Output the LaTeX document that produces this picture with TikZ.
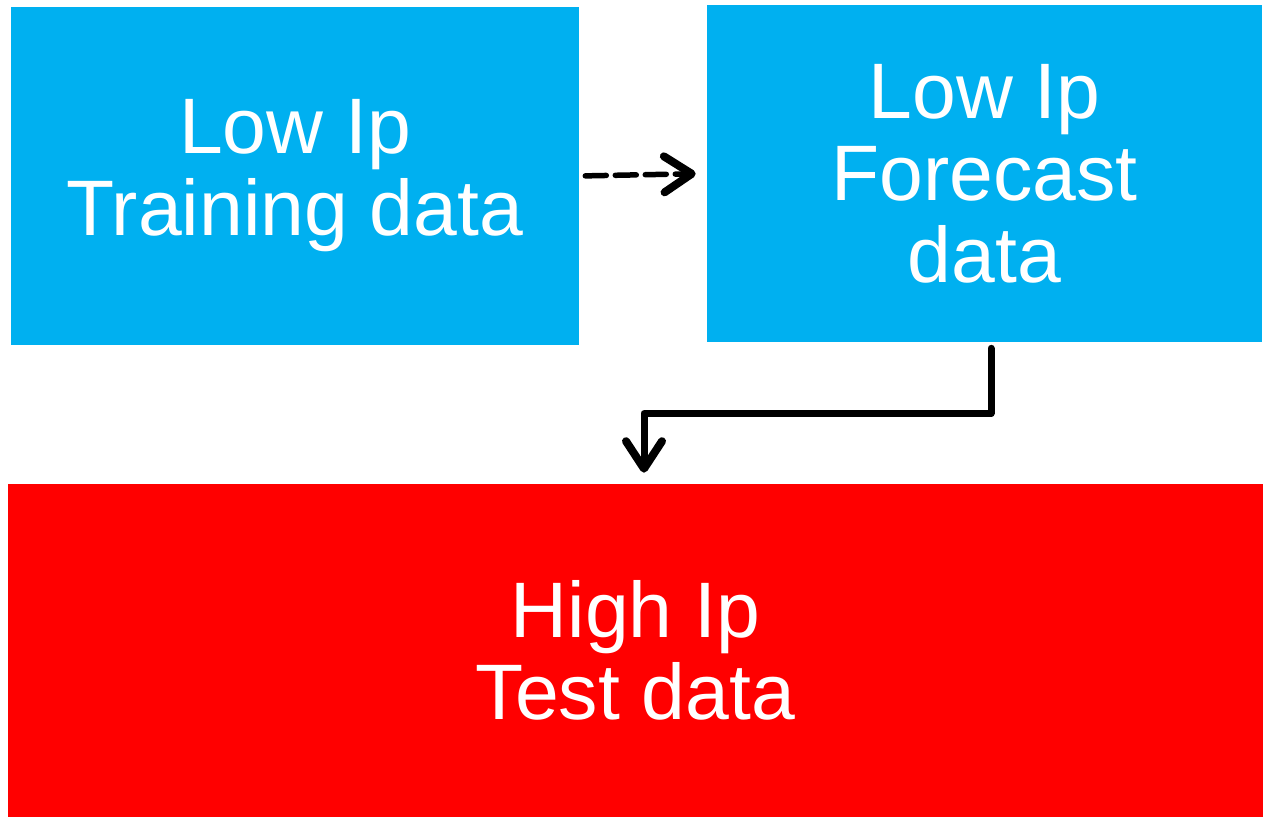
\documentclass[tikz,border=0pt]{standalone}
\usepackage{fontspec}
\setmainfont{Liberation Sans}
\usetikzlibrary{arrows.meta, positioning, calc}
\definecolor{skyblue}{RGB}{0, 176, 240}
\definecolor{hotred}{RGB}{255, 0, 0}

\begin{document}
\begin{tikzpicture}[
    x=0.02cm, y=-0.02cm,
    block/.style={fill=skyblue, draw=none, align=center, text=white, inner sep=0pt,
                  font=\fontsize{44.8}{46.7}\selectfont},
    flow/.style={line width=0.14cm, line cap=round, line join=round,
                 -{Straight Barb[length=0.55cm, width=0.72cm, round, line width=0.16cm]}}
]
    \useasboundingbox (0,0) rectangle (1263,817);

    % Training block
    \node[block, minimum width=11.36cm, minimum height=6.76cm] (train) at (295,176)
        {Low Ip\\Training data};

    % Forecast block
    \node[block, minimum width=11.1cm, minimum height=6.74cm] (fore) at (984.5,173.5)
        {Low Ip\\Forecast\\data};

    % Test block
    \node[block, fill=hotred, minimum width=25.1cm, minimum height=6.66cm] (test) at (635.5,650.5)
        {High Ip\\Test data};

    % Arrows
    \draw[flow, line width=0.11cm, dash pattern=on 0.42cm off 0.18cm,
          shorten <=0.12cm, shorten >=0.22cm] (train.east) -- (fore.west);
    \draw[flow] ([xshift=0.13cm, yshift=-0.12cm]fore.south) -- ++(0,65)
        -| ([xshift=0.17cm, yshift=0.22cm]test.north);
\end{tikzpicture}
\end{document}
